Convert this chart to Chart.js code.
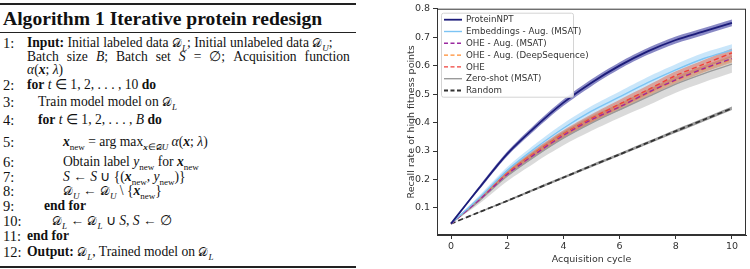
<!DOCTYPE html>
<html lang="en">
<head>
<meta charset="UTF-8">
<title>Iterative protein redesign</title>
<script src="https://cdn.jsdelivr.net/npm/chart.js@4.4.1/dist/chart.umd.min.js"></script>
<style>
  body { margin: 0; background: #fff; width: 750px; height: 269px; overflow: hidden; position: relative; }
  #algo { position: absolute; left: 0; top: 0; width: 360px; height: 269px; font-family: 'Liberation Serif', serif; color: #111; }
  .rule { position: absolute; left: 0; width: 356px; background: #222; }
  .row { position: absolute; left: 0; height: 16px; line-height: 16px; font-size: 13.6px; white-space: nowrap; }
  .num { position: absolute; left: 3px; font-size: 14.5px; }
  .txt { position: absolute; }
  .cal { font-family: 'DejaVu Serif', serif; font-style: normal; font-size: 12px; }
  sub { font-size: 9px; line-height: 0; }
  #chartBox { position: absolute; left: 368px; top: 0; width: 382px; height: 269px; }
</style>
</head>
<body>
<div id="algo">
  <div class="rule" style="top:3px;height:2px"></div>
  <div style="position:absolute;left:3px;top:7px;font-size:19.6px;font-weight:bold;line-height:24px">Algorithm 1 Iterative protein redesign</div>
  <div class="rule" style="top:32px;height:1px"></div>

  <div class="row" style="top:35px"><span class="num">1:</span><span class="txt" style="left:27px"><b>Input:</b> Initial labeled data <span class="cal">𝒟</span><sub><i>L</i></sub>; Initial unlabeled data <span class="cal">𝒟</span><sub><i>U</i></sub>;</span></div>
  <div class="row" style="top:49px"><span class="txt" style="left:27px;width:323px;display:flex;justify-content:space-between"><span>Batch</span><span>size</span><span><i>B</i>;</span><span>Batch</span><span>set</span><span><i>S</i></span><span>=</span><span>∅;</span><span>Acquisition</span><span>function</span></span></div>
  <div class="row" style="top:62px"><span class="txt" style="left:27px"><i>α</i>(<b><i>x</i></b>; <i>λ</i>)</span></div>
  <div class="row" style="top:77px"><span class="num">2:</span><span class="txt" style="left:27px"><b>for</b> <i>t</i> ∈ 1, 2, . . . , 10 <b>do</b></span></div>
  <div class="row" style="top:94px"><span class="num">3:</span><span class="txt" style="left:38px">Train model model on <span class="cal">𝒟</span><sub><i>L</i></sub></span></div>
  <div class="row" style="top:112px"><span class="num">4:</span><span class="txt" style="left:38px"><b>for</b> <i>t</i> ∈ 1, 2, . . . , <i>B</i> <b>do</b></span></div>
  <div class="row" style="top:134px"><span class="num">5:</span><span class="txt" style="left:63px"><b><i>x</i></b><sub>new</sub> = arg max<sub><b><i>x</i></b>∈<span class="cal" style="font-size:8px">𝒟</span><i>U</i></sub> <i>α</i>(<b><i>x</i></b>; <i>λ</i>)</span></div>
  <div class="row" style="top:154px"><span class="num">6:</span><span class="txt" style="left:63px">Obtain label <i>y</i><sub>new</sub> for <b><i>x</i></b><sub>new</sub></span></div>
  <div class="row" style="top:169px"><span class="num">7:</span><span class="txt" style="left:63px"><i>S</i> ← <i>S</i> ∪ {(<b><i>x</i></b><sub>new</sub>, <i>y</i><sub>new</sub>)}</span></div>
  <div class="row" style="top:183px"><span class="num">8:</span><span class="txt" style="left:63px"><span class="cal">𝒟</span><sub><i>U</i></sub> ← <span class="cal">𝒟</span><sub><i>U</i></sub> \ {<b><i>x</i></b><sub>new</sub>}</span></div>
  <div class="row" style="top:198px"><span class="num">9:</span><span class="txt" style="left:44px"><b>end for</b></span></div>
  <div class="row" style="top:213px"><span class="num">10:</span><span class="txt" style="left:52px"><span class="cal">𝒟</span><sub><i>L</i></sub> ← <span class="cal">𝒟</span><sub><i>L</i></sub> ∪ <i>S</i>, <i>S</i> ← ∅</span></div>
  <div class="row" style="top:228px"><span class="num">11:</span><span class="txt" style="left:27px"><b>end for</b></span></div>
  <div class="row" style="top:244px"><span class="num">12:</span><span class="txt" style="left:27px"><b>Output:</b> <span class="cal">𝒟</span><sub><i>L</i></sub>, Trained model on <span class="cal">𝒟</span><sub><i>L</i></sub></span></div>
  <div class="rule" style="top:266px;height:2px"></div>
</div>

<div id="chartBox"><canvas id="recallChart"></canvas></div>

<script>
// acquisition cycles and tick labels
const cycles = [0, 1, 2, 3, 4, 5, 6, 7, 8, 9, 10];
const xTicks = [0, 2, 4, 6, 8, 10];
const yTicks = [0.1, 0.2, 0.3, 0.4, 0.5, 0.6, 0.7, 0.8];

// mean recall per cycle
const proteinNPT    = [0.045, 0.170, 0.290, 0.385, 0.470, 0.540, 0.600, 0.650, 0.690, 0.720, 0.750];
const embeddingsAug = [0.045, 0.135, 0.232, 0.310, 0.380, 0.440, 0.490, 0.540, 0.585, 0.625, 0.655];
const oheAugMsat    = [0.045, 0.128, 0.218, 0.290, 0.355, 0.410, 0.455, 0.505, 0.550, 0.590, 0.625];
const oheAugDeepSeq = [0.045, 0.130, 0.220, 0.292, 0.357, 0.410, 0.455, 0.503, 0.548, 0.588, 0.622];
const ohe           = [0.045, 0.130, 0.222, 0.295, 0.360, 0.415, 0.465, 0.515, 0.565, 0.605, 0.645];
const zeroShot      = [0.045, 0.125, 0.212, 0.282, 0.345, 0.398, 0.445, 0.490, 0.535, 0.572, 0.605];
const random        = [0.045, 0.085, 0.125, 0.166, 0.207, 0.248, 0.288, 0.329, 0.370, 0.410, 0.450];

// half-width of the shaded bands
const proteinNPTBand = [0, 0.006, 0.008, 0.010, 0.011, 0.012, 0.012, 0.012, 0.012, 0.012, 0.012];
const embeddingsBand = [0, 0.008, 0.012, 0.015, 0.017, 0.018, 0.019, 0.020, 0.020, 0.020, 0.020];
const oheAugMsatBand = [0, 0.005, 0.008, 0.010, 0.011, 0.012, 0.012, 0.012, 0.012, 0.012, 0.012];
const oheDeepBand    = [0, 0.005, 0.008, 0.010, 0.011, 0.012, 0.012, 0.012, 0.012, 0.012, 0.012];
const oheBand        = [0, 0.006, 0.010, 0.012, 0.013, 0.014, 0.015, 0.015, 0.015, 0.015, 0.015];
const zeroShotBand   = [0, 0.010, 0.018, 0.022, 0.025, 0.027, 0.028, 0.030, 0.030, 0.030, 0.030];
const randomBand     = [0, 0.002, 0.003, 0.004, 0.004, 0.005, 0.005, 0.005, 0.006, 0.006, 0.006];

const series = [
  { label: 'ProteinNPT', data: proteinNPT, band: proteinNPTBand, color: '#1c1c7a', fill: 'rgba(40,40,150,0.55)', dash: [], width: 1.8 },
  { label: 'Embeddings - Aug. (MSAT)', data: embeddingsAug, band: embeddingsBand, color: '#7cc4f4', fill: 'rgba(135,200,245,0.45)', dash: [], width: 1.4 },
  { label: 'OHE - Aug. (MSAT)', data: oheAugMsat, band: oheAugMsatBand, color: '#9b2aa0', fill: 'rgba(160,60,170,0.25)', dash: [5, 3], width: 1.4 },
  { label: 'OHE - Aug. (DeepSequence)', data: oheAugDeepSeq, band: oheDeepBand, color: '#ff8c30', fill: 'rgba(255,140,40,0.45)', dash: [5, 3], width: 1.4 },
  { label: 'OHE', data: ohe, band: oheBand, color: '#f0403a', fill: 'rgba(240,80,40,0.45)', dash: [5, 3], width: 1.4 },
  { label: 'Zero-shot (MSAT)', data: zeroShot, band: zeroShotBand, color: '#9a9a9a', fill: 'rgba(150,150,150,0.35)', dash: [], width: 1.4 },
  { label: 'Random', data: random, band: randomBand, color: '#333333', fill: 'rgba(60,60,60,0.5)', dash: [5, 3], width: 1.8 }
];

const pts = arr => cycles.map((c, i) => ({ x: c, y: arr[i] }));

const datasets = [];
// mean lines first so they are drawn on top
series.forEach(s => {
  datasets.push({
    label: s.label, data: pts(s.data), borderColor: s.color, borderWidth: s.width,
    borderDash: s.dash, pointRadius: 0, fill: false, tension: 0.3
  });
});
// shaded bands
series.slice().reverse().forEach(s => {
  datasets.push({
    label: '_lo', data: pts(s.data.map((v, i) => v - s.band[i])),
    borderWidth: 0, pointRadius: 0, fill: false, tension: 0.3
  });
  datasets.push({
    label: '_hi', data: pts(s.data.map((v, i) => v + s.band[i])),
    borderWidth: 0, pointRadius: 0, fill: '-1', backgroundColor: s.fill, tension: 0.3
  });
});

const frame = {
  id: 'frame',
  afterDraw(chart) {
    const { ctx, chartArea: a } = chart;
    ctx.save();
    ctx.strokeStyle = '#333';
    ctx.lineWidth = 1;
    ctx.strokeRect(a.left + 0.5, a.top + 0.5, a.right - a.left - 1, a.bottom - a.top - 1);

    // matplotlib style legend in the upper left
    const bx = a.left + 4, by = a.top + 4, bw = 132, bh = 84;
    ctx.fillStyle = 'rgba(255,255,255,0.85)';
    ctx.strokeStyle = '#d4d4d4';
    ctx.beginPath();
    ctx.roundRect(bx + 0.5, by + 0.5, bw, bh, 2);
    ctx.fill();
    ctx.stroke();
    ctx.font = '8.7px "DejaVu Sans"';
    ctx.textBaseline = 'middle';
    series.forEach((s, i) => {
      const y = by + 7 + i * 11.8;
      ctx.strokeStyle = s.color;
      ctx.lineWidth = s.width;
      ctx.setLineDash(s.dash.length ? [4, 2.5] : []);
      ctx.beginPath();
      ctx.moveTo(bx + 3, y);
      ctx.lineTo(bx + 21, y);
      ctx.stroke();
      ctx.setLineDash([]);
      ctx.fillStyle = '#333';
      ctx.fillText(s.label, bx + 25, y + 0.5);
    });
    ctx.restore();
  }
};

const tickFont = { family: 'DejaVu Sans', size: 9.5 };

new Chart(document.getElementById('recallChart'), {
  type: 'line',
  data: { datasets: datasets },
  options: {
    responsive: true,
    maintainAspectRatio: false,
    animation: false,
    layout: { padding: { left: 0, top: 3, right: 4, bottom: 0 } },
    plugins: { legend: { display: false }, tooltip: { enabled: false } },
    scales: {
      x: {
        type: 'linear', min: -0.5, max: 10.5,
        afterBuildTicks: sc => { sc.ticks = xTicks.map(v => ({ value: v })); },
        afterFit: sc => { sc.height = 34; },
        grid: { drawOnChartArea: false, drawTicks: true, tickLength: 4, color: '#333' },
        border: { display: true, color: '#333' },
        ticks: { font: tickFont, color: '#333', padding: 2, maxRotation: 0 },
        title: { display: true, text: 'Acquisition cycle', font: tickFont, color: '#333', padding: { top: 0, bottom: 4 } }
      },
      y: {
        min: 0.005, max: 0.8,
        afterBuildTicks: sc => { sc.ticks = yTicks.map(v => ({ value: v })); },
        afterFit: sc => { sc.width = 69; },
        grid: { drawOnChartArea: false, drawTicks: true, tickLength: 4, color: '#333' },
        border: { display: true, color: '#333' },
        ticks: { font: tickFont, color: '#333', padding: 3, callback: v => v.toFixed(1) },
        title: { display: true, text: 'Recall rate of high fitness points', font: tickFont, color: '#333', padding: { top: 38, bottom: 0 } }
      }
    }
  },
  plugins: [frame]
});
</script>
</body>
</html>
